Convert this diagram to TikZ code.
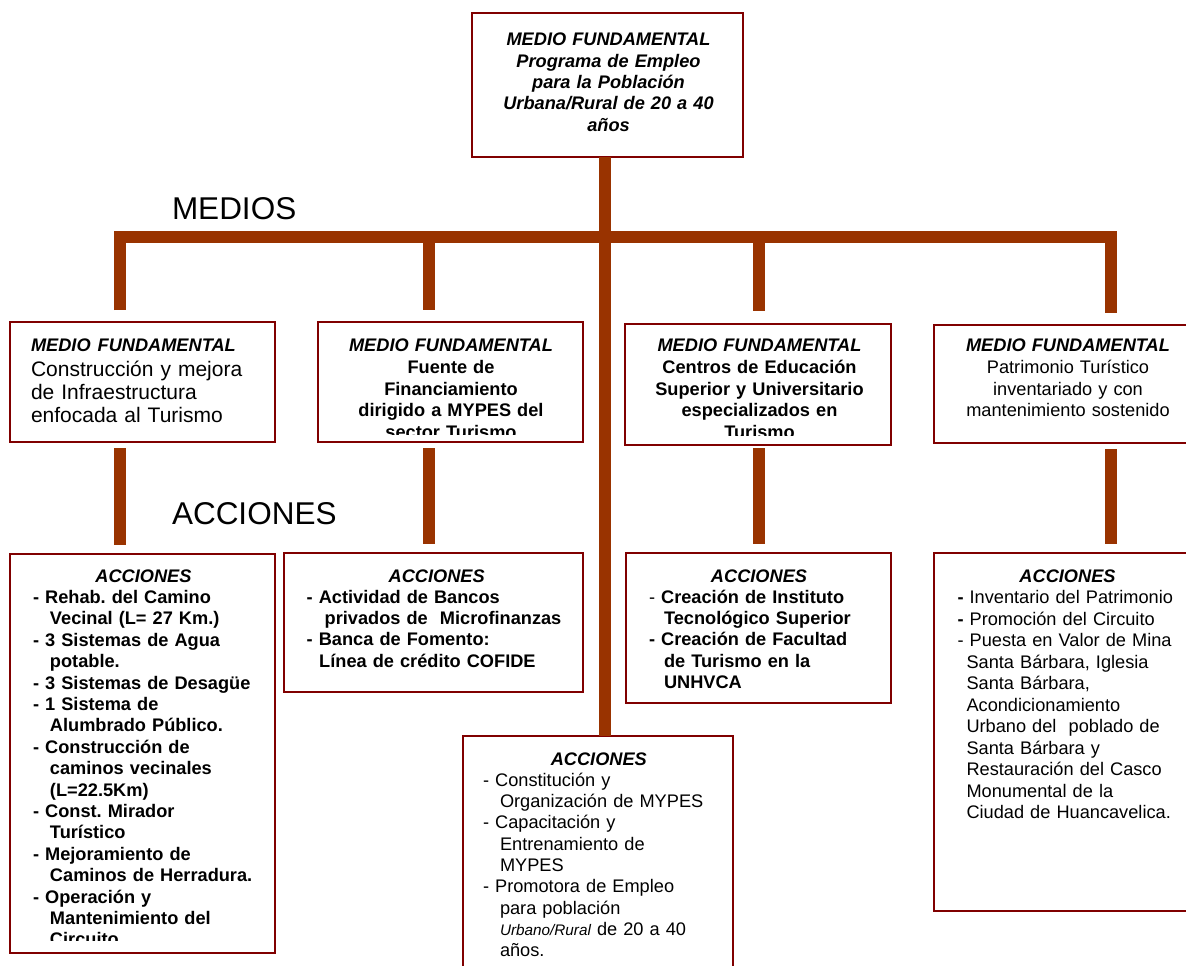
\documentclass[tikz,border=0pt]{standalone}
\usepackage{fontspec}
\setmainfont{Liberation Sans}
\frenchspacing
\definecolor{boxred}{HTML}{800000}
\definecolor{connbrown}{HTML}{993300}
\newcommand\myfs[2]{\fontsize{#1pt}{#2pt}\selectfont}
\begin{document}
\begin{tikzpicture}[x=1pt,y=-1pt,
  box/.style={draw=boxred, line width=2.6pt, rectangle, inner sep=0pt, outer sep=0pt, anchor=north west, fill=white},
  conn/.style={draw=connbrown, line width=12pt, line join=miter},
  txtc/.style={inner sep=0pt, outer sep=0pt, align=center, anchor=base},
  txtl/.style={inner sep=0pt, outer sep=0pt, align=left, anchor=base west},
  lbl/.style={inner sep=0pt, outer sep=0pt, anchor=base west, font=\myfs{31.5}{36}}]
\useasboundingbox (0,0) rectangle (1186,966);
\clip (0,0) rectangle (1186,966);

% coordinates of the bar and drops
\coordinate (d1) at (120,237);
\coordinate (d2) at (428.5,237);
\coordinate (d3) at (759,237);
\coordinate (d4) at (1111,237);
\coordinate (tk) at (605,237);

% boxes
\node[box, minimum width=271pt, minimum height=144pt] (T) at (472,13) {};
\node[box, minimum width=265pt, minimum height=120pt] (M1) at (10,322) {};
\node[box, minimum width=265pt, minimum height=120pt] (M2) at (318,322) {};
\node[box, minimum width=266pt, minimum height=121pt] (M3) at (625,324) {};
\node[box, minimum width=270pt, minimum height=118pt] (M4) at (934,325) {};
\node[box, minimum width=265pt, minimum height=399pt] (A1) at (10,554) {};
\node[box, minimum width=299pt, minimum height=139pt] (A2) at (284,553) {};
\node[box, minimum width=265pt, minimum height=150pt] (A3) at (626,553) {};
\node[box, minimum width=270pt, minimum height=358pt] (A4) at (934,553) {};
\node[box, minimum width=270pt, minimum height=260pt] (A5) at (463,736) {};

% connectors
\draw[conn] (T.south -| tk) -- (A5.north -| tk);
\draw[conn, shorten <=12pt, shorten >=12pt] (d1 |- M1.north) -- (d1) -- (d4) -- (d4 |- M4.north);
\draw[conn, shorten >=12pt] (d2) -- (d2 |- M2.north);
\draw[conn, shorten >=13pt] (d3) -- (d3 |- M3.north);
\draw[conn, shorten <=6pt, shorten >=9pt] (d1 |- M1.south) -- (d1 |- A1.north);
\draw[conn, shorten <=6pt, shorten >=9pt] (d2 |- M2.south) -- (d2 |- A2.north);
\draw[conn, shorten <=3pt, shorten >=9pt] (d3 |- M3.south) -- (d3 |- A3.north);
\draw[conn, shorten <=6pt, shorten >=9pt] (d4 |- M4.south) -- (d4 |- A4.north);

% labels
\node[lbl] (medios) at (172,219) {MEDIOS};
\node[lbl] (acciones) at (172,524) {ACCIONES};

% top box text
\node[txtc, text width=265pt, font=\myfs{18.2}{21.5}\bfseries\itshape] (tT) at (608.5,45.5) {MEDIO FUNDAMENTAL\\Programa de Empleo\\para la Población\\Urbana/Rural de 20 a 40\\años};

% medios texts
\node[txtl, text width=240pt, font=\myfs{21}{23}] (tM1) at (31,351.7) {{\fontsize{18.2pt}{23pt}\selectfont\bfseries\itshape MEDIO FUNDAMENTAL}\\[1.3pt]Construcción y mejora\\de Infraestructura\\enfocada al Turismo};
\begin{scope}
\clip (318,322) rectangle (583,434);
\node[txtc, text width=260pt, font=\myfs{18.2}{21.7}\bfseries] (tM2) at (451,351.7) {{\itshape MEDIO FUNDAMENTAL}\\Fuente de\\Financiamiento\\dirigido a MYPES del\\sector Turismo};
\end{scope}
\begin{scope}
\clip (625,324) rectangle (891,435);
\node[txtc, text width=260pt, font=\myfs{18.2}{21.7}\bfseries] (tM3) at (759.5,351.7) {{\itshape MEDIO FUNDAMENTAL}\\Centros de Educación\\Superior y Universitario\\especializados en\\Turismo};
\end{scope}
\node[txtc, text width=260pt, font=\myfs{18.2}{21.7}] (tM4) at (1068,351.7) {{\bfseries\itshape MEDIO FUNDAMENTAL}\\Patrimonio Turístico\\inventariado y con\\mantenimiento sostenido};

% acciones headings
\tikzset{ah/.style={txtc, text width=200pt, font=\myfs{18.2}{21.3}\bfseries\itshape}}
\node[ah] (hA1) at (143.5,582) {ACCIONES};
\node[ah] (hA2) at (436.7,582) {ACCIONES};
\node[ah] (hA3) at (759,582) {ACCIONES};
\node[ah] (hA4) at (1067.5,582) {ACCIONES};
\node[ah] (hA5) at (598.8,765) {ACCIONES};

% acciones lists
\begin{scope}
\clip (10,554) rectangle (275,940);
\node[txtl, text width=240pt, font=\myfs{18.2}{21.4}\bfseries] (lA1) at (33,603.4) {-~Rehab. del Camino\\
\hspace*{17pt}Vecinal (L= 27 Km.)\\
-~3 Sistemas de Agua\\
\hspace*{17pt}potable.\\
-~3 Sistemas de Desagüe\\
-~1 Sistema de\\
\hspace*{17pt}Alumbrado Público.\\
-~Construcción de\\
\hspace*{17pt}caminos vecinales\\
\hspace*{17pt}(L=22.5Km)\\
-~Const. Mirador\\
\hspace*{17pt}Turístico\\
-~Mejoramiento de\\
\hspace*{17pt}Caminos de Herradura.\\
-~Operación y\\
\hspace*{17pt}Mantenimiento del\\
\hspace*{17pt}Circuito};
\end{scope}

\node[txtl, text width=275pt, font=\myfs{18.2}{21.3}\bfseries] (lA2) at (306.7,603.3) {-~Actividad de Bancos\\
\hspace*{18pt}privados de\ \ Microfinanzas\\
-~Banca de Fomento:\\
\hspace*{12.5pt}Línea de crédito COFIDE};

\node[txtl, text width=240pt, font=\myfs{18.2}{21.3}] (lA3) at (649,603.3) {-~\textbf{Creación de Instituto}\\
\hspace*{15pt}\textbf{Tecnológico Superior}\\
\textbf{-~Creación de Facultad}\\
\hspace*{15pt}\textbf{de Turismo en la}\\
\hspace*{15pt}\textbf{UNHVCA}};

\node[txtl, text width=240pt, font=\myfs{18.2}{21.5}] (lA4) at (957.5,603.5) {\textbf{-}~Inventario del Patrimonio\\
\textbf{-}~Promoción del Circuito\\
-~Puesta en Valor de Mina\\
\hspace*{9pt}Santa Bárbara, Iglesia\\
\hspace*{9pt}Santa Bárbara,\\
\hspace*{9pt}Acondicionamiento\\
\hspace*{9pt}Urbano del\ \ poblado de\\
\hspace*{9pt}Santa Bárbara y\\
\hspace*{9pt}Restauración del Casco\\
\hspace*{9pt}Monumental de la\\
\hspace*{9pt}Ciudad de Huancavelica.};

\node[txtl, text width=240pt, font=\myfs{18.2}{21.3}] (lA5) at (483,786.3) {-~Constitución y\\
\hspace*{17pt}Organización de MYPES\\
-~Capacitación y\\
\hspace*{17pt}Entrenamiento de\\
\hspace*{17pt}MYPES\\
-~Promotora de Empleo\\
\hspace*{17pt}para población\\
\hspace*{17pt}{\fontsize{15.3pt}{21.3pt}\selectfont\itshape Urbano/Rural} de 20 a 40\\
\hspace*{17pt}años.};
\end{tikzpicture}
\end{document}
